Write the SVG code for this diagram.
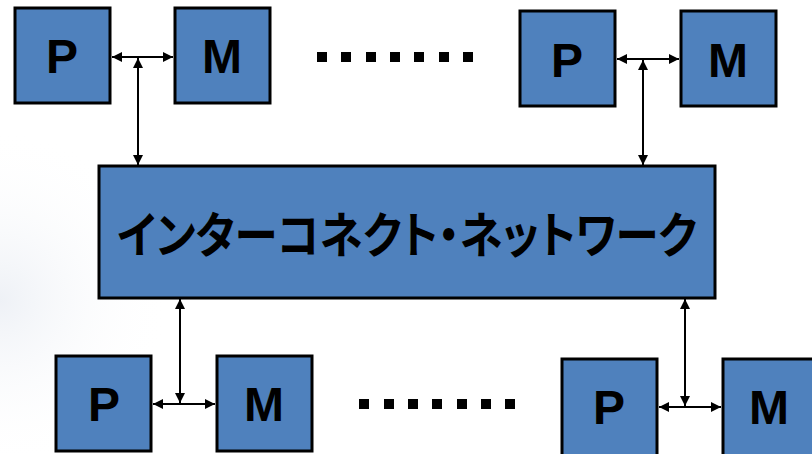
<svg xmlns="http://www.w3.org/2000/svg" width="812" height="454" viewBox="0 0 812 454">
  <style>
    .blk { fill: #4f81bd; stroke: #000; stroke-width: 3; }
    .pm { font-family: "Liberation Sans", Arial, sans-serif; font-weight: 700; font-size: 48px; fill: #000; text-anchor: middle; }
    .net { font-family: "Noto Sans CJK JP", "Noto Sans", sans-serif; font-weight: 700; font-size: 49px; fill: #000; font-feature-settings: "palt"; }
    .wire { fill: none; stroke: #000; stroke-width: 2; marker-start: url(#head); marker-end: url(#head); }
    .dot { fill: #000; }
  </style>
  <defs>
    <marker id="head" viewBox="0 0 10 10" refX="10" refY="5" markerWidth="10" markerHeight="10" markerUnits="userSpaceOnUse" orient="auto-start-reverse">
      <path d="M0,0 L10,5 L0,10 z" fill="#000"/>
    </marker>
    <radialGradient id="haze" cx="0" cy="300" r="170" gradientUnits="userSpaceOnUse">
      <stop offset="0" stop-color="#eef1f6"/>
      <stop offset="1" stop-color="#ffffff" stop-opacity="0"/>
    </radialGradient>
  </defs>

  <rect width="812" height="454" fill="#fff"/>
  <rect x="0" y="120" width="180" height="334" fill="url(#haze)"/>

  <!-- upper left pair -->
  <g id="p-top-left"><rect class="blk" x="15" y="8" width="95" height="95"/><text class="pm" x="62" y="73">P</text></g>
  <g id="m-top-left"><rect class="blk" x="175" y="8" width="95" height="95"/><text class="pm" x="222" y="73">M</text></g>

  <!-- upper right pair -->
  <g id="p-top-right"><rect class="blk" x="520" y="11" width="95" height="95"/><text class="pm" x="567" y="77">P</text></g>
  <g id="m-top-right"><rect class="blk" x="681" y="11" width="95" height="95"/><text class="pm" x="728" y="77">M</text></g>

  <!-- interconnect -->
  <g id="network">
    <rect class="blk" x="99" y="166" width="616" height="132"/>
    <text class="net" x="117" y="253" textLength="580" lengthAdjust="spacingAndGlyphs">インターコネクト・ネットワーク</text>
  </g>

  <!-- lower left pair -->
  <g id="p-bottom-left"><rect class="blk" x="56" y="356" width="95" height="95"/><text class="pm" x="104" y="421">P</text></g>
  <g id="m-bottom-left"><rect class="blk" x="217" y="356" width="95" height="95"/><text class="pm" x="264" y="421">M</text></g>

  <!-- lower right pair -->
  <g id="p-bottom-right"><rect class="blk" x="562" y="359" width="95" height="97"/><text class="pm" x="609" y="424">P</text></g>
  <g id="m-bottom-right"><rect class="blk" x="723" y="359" width="95" height="97"/><text class="pm" x="769" y="424">M</text></g>

  <!-- ellipses between pairs -->
  <g id="dots-top">
    <rect class="dot" x="317" y="52" width="10" height="10"/>
    <rect class="dot" x="341" y="52" width="10" height="10"/>
    <rect class="dot" x="366" y="52" width="10" height="10"/>
    <rect class="dot" x="390" y="52" width="10" height="10"/>
    <rect class="dot" x="414" y="52" width="10" height="10"/>
    <rect class="dot" x="439" y="52" width="10" height="10"/>
    <rect class="dot" x="463" y="52" width="10" height="10"/>
  </g>
  <g id="dots-bottom">
    <rect class="dot" x="359" y="399" width="10" height="10"/>
    <rect class="dot" x="384" y="399" width="10" height="10"/>
    <rect class="dot" x="408" y="399" width="10" height="10"/>
    <rect class="dot" x="432" y="399" width="10" height="10"/>
    <rect class="dot" x="457" y="399" width="10" height="10"/>
    <rect class="dot" x="481" y="399" width="10" height="10"/>
    <rect class="dot" x="505" y="399" width="10" height="10"/>
  </g>

  <g id="connectors">
    <line class="wire" x1="112" y1="57" x2="173" y2="57"/>
    <line class="wire" x1="138" y1="58" x2="138" y2="165"/>
    <line class="wire" x1="617" y1="59" x2="679" y2="59"/>
    <line class="wire" x1="643" y1="60" x2="643" y2="165"/>
    <line class="wire" x1="180" y1="299" x2="180" y2="403"/>
    <line class="wire" x1="153" y1="404" x2="215" y2="404"/>
    <line class="wire" x1="685" y1="299" x2="685" y2="406"/>
    <line class="wire" x1="659" y1="407" x2="721" y2="407"/>
  </g>
</svg>
